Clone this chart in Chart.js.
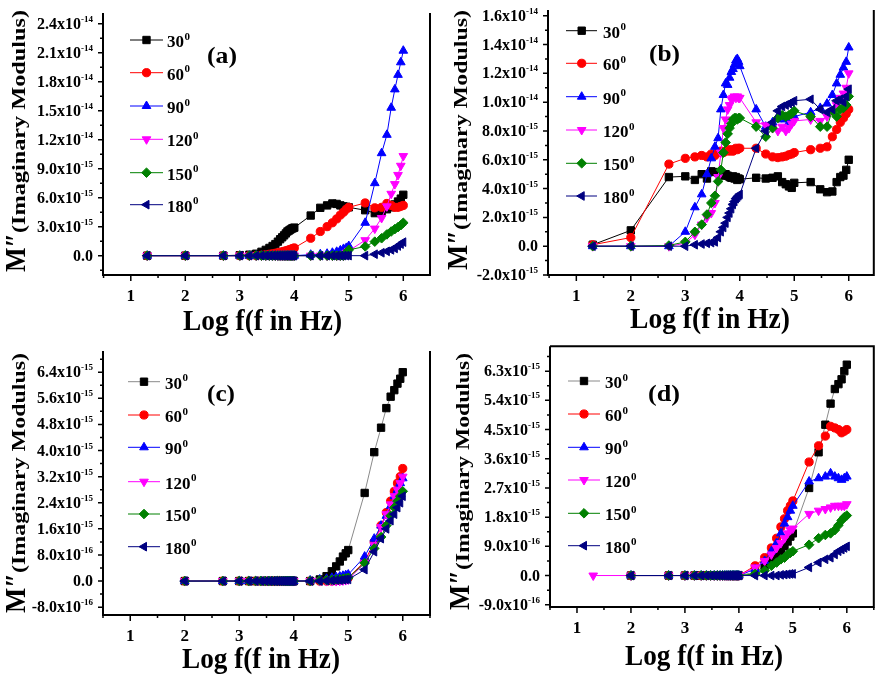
<!DOCTYPE html>
<html>
<head>
<meta charset="utf-8">
<script src="https://cdn.jsdelivr.net/npm/chart.js@4.4.0/dist/chart.umd.min.js"></script>
<style>
body { margin: 0; background: #fff; }
#wrap { position: relative; width: 880px; height: 678px; background: #fff; overflow: hidden; }
canvas { position: absolute; }
</style>
</head>
<body>
<div id="wrap">
  <canvas id="pa" width="440" height="340" style="left:0px;top:0px"></canvas>
  <canvas id="pb" width="440" height="340" style="left:440px;top:0px"></canvas>
  <canvas id="pc" width="440" height="338" style="left:0px;top:340px"></canvas>
  <canvas id="pd" width="440" height="338" style="left:440px;top:340px"></canvas>
</div>
<script>
// log10 of the measuring frequency, shared by all four panels
var logF = [1.301, 2, 2.699, 3, 3.176, 3.301, 3.398, 3.477, 3.544, 3.602, 3.653, 3.699, 3.740, 3.778, 3.813, 3.845, 3.875, 3.903, 3.929, 3.954, 3.978, 4,
            4.301, 4.477, 4.602, 4.699, 4.778, 4.845, 4.903, 4.954, 5,
            5.301, 5.477, 5.602, 5.699, 5.778, 5.845, 5.903, 5.954, 6];

// M'' values, in units of 1e-15
// (a)
var a30  = [0, 0, 0, 0.05, 0.1, 0.2, 0.4, 0.6, 0.8, 1.0, 1.2, 1.45, 1.7, 1.9, 2.1, 2.3, 2.5, 2.6, 2.7, 2.8, 2.85, 2.9,
            4.15, 4.95, 5.2, 5.4, 5.35, 5.2, 5.1, 5.05, 5.0, 4.7, 4.4, 4.5, 4.8, 5.0, 5.3, 5.6, 5.9, 6.3];
var a60  = [0, 0, 0, 0, 0, 0, 0.05, 0.1, 0.15, 0.2, 0.25, 0.3, 0.35, 0.4, 0.45, 0.5, 0.55, 0.6, 0.65, 0.7, 0.75, 0.8,
            1.8, 2.5, 3.0, 3.4, 3.8, 4.2, 4.5, 4.8, 5.0, 5.45, 4.95, 5.0, 5.4, 5.2, 5.0, 5.0, 5.1, 5.2];
var a90  = [0, 0, 0, 0, 0, 0, 0, 0, 0, 0, 0, 0, 0, 0, 0, 0, 0, 0, 0, 0, 0, 0,
            0.1, 0.15, 0.2, 0.3, 0.4, 0.55, 0.7, 0.8, 1.0, 3.4, 7.5, 10.6, 12.5, 15.3, 17.2, 18.7, 20.0, 21.2];
var a120 = [0, 0, 0, 0, 0, 0, 0, 0, 0, 0, 0, 0, 0, 0, 0, 0, 0, 0, 0, 0, 0, 0,
            0, 0, 0, 0, 0, 0, 0, 0.3, 0.5, 1.6, 2.8, 3.9, 5.1, 6.4, 7.4, 8.35, 9.3, 10.3];
var a150 = [0, 0, 0, 0, 0, 0, 0, 0, 0, 0, 0, 0, 0, 0, 0, 0, 0, 0, 0, 0, 0, 0,
            0, 0, 0, 0, 0, 0, 0, 0.3, 0.6, 0.95, 1.45, 1.8, 2.2, 2.5, 2.75, 2.95, 3.15, 3.4];
var a180 = [0, 0, 0, 0, 0, 0, 0, 0, 0, 0, 0, 0, 0, 0, 0, 0, 0, 0, 0, 0, 0, 0,
            0, 0, 0, 0, 0, 0, 0, 0, 0, 0, 0.15, 0.3, 0.45, 0.6, 0.75, 1.0, 1.2, 1.4];
// (b)
var b30  = [0.1, 1.1, 4.8, 4.85, 4.6, 5.0, 4.7, 5.2, 5.15, 5.1, 5.0, 4.9, 5.0, 4.9, 4.8, 4.75, 4.85, 4.7, 4.8, 4.6, 4.7, 4.65,
            4.75, 4.7, 4.75, 4.85, 4.45, 4.3, 4.15, 4.05, 4.4, 4.45, 3.95, 3.75, 3.8, 4.45, 4.8, 4.9, 5.3, 6.0];
var b60  = [0.1, 0.6, 5.7, 6.1, 6.2, 6.3, 6.2, 6.4, 6.3, 6.5, 6.6, 6.5, 6.6, 6.7, 6.6, 6.7, 6.6, 6.7, 6.8, 6.7, 6.8, 6.8,
            6.8, 6.4, 6.2, 6.15, 6.2, 6.25, 6.35, 6.4, 6.5, 6.7, 6.8, 6.9, 7.6, 8.1, 8.6, 8.9, 9.2, 9.5];
var b90  = [0, 0, 0, 1.0, 2.7, 3.6, 5.0, 6.1, 6.9, 7.5, 9.5, 10.5, 11.3, 11.2, 11.7, 12.1, 12.3, 12.6, 12.9, 13.0, 12.8, 12.5,
            9.5, 8.3, 8.6, 8.8, 9.0, 8.8, 8.6, 8.9, 9.0, 9.3, 9.6, 9.9, 10.5, 11.3, 11.9, 12.4, 12.8, 13.8];
var b120 = [0, 0, 0, 0.2, 0.8, 1.5, 2.0, 2.3, 3.0, 4.8, 6.5, 8.2, 8.8, 9.5, 9.8, 10.2, 10.3, 10.4, 10.3, 10.4, 10.3, 10.3,
            8.6, 8.4, 8.2, 8.0, 8.3, 8.0, 8.2, 8.5, 8.7, 8.8, 8.7, 9.0, 9.4, 9.8, 10.3, 10.6, 11.0, 12.0];
var b150 = [0, 0, 0.05, 0.3, 1.0, 1.5, 2.2, 3.0, 3.5, 4.5, 5.3, 6.5, 7.2, 7.8, 8.2, 8.5, 8.8, 8.9, 8.9, 8.8, 8.9, 8.9,
            8.3, 7.6, 8.2, 8.9, 9.1, 9.0, 9.1, 9.2, 9.4, 9.0, 8.3, 8.3, 9.4, 9.0, 9.5, 9.6, 9.8, 10.4];
var b180 = [0, 0, 0, 0, 0.1, 0.15, 0.2, 0.25, 0.3, 0.6, 1.0, 1.3, 1.6, 2.0, 2.3, 2.6, 2.9, 3.1, 3.3, 3.4, 3.5, 3.6,
            6.8, 8.0, 8.6, 9.4, 9.7, 9.8, 9.9, 10.0, 10.1, 10.2, 9.5, 9.3, 9.5, 10.1, 10.2, 10.0, 10.4, 10.9];
// (c)
var c30  = [null, 0, 0, 0, 0, 0, 0, 0, 0, 0, 0, 0, 0, 0, 0, 0, 0, 0, 0, 0, 0, 0,
            0, 0.05, 0.15, 0.3, 0.45, 0.6, 0.75, 0.85, 0.95, 2.7, 3.95, 4.7, 5.3, 5.65, 5.85, 6.05, 6.2, 6.4];
var c60  = [null, 0, 0, 0, 0, 0, 0, 0, 0, 0, 0, 0, 0, 0, 0, 0, 0, 0, 0, 0, 0, 0,
            0, 0, 0, 0, 0.02, 0.03, 0.05, 0.07, 0.1, 0.6, 1.2, 1.7, 2.1, 2.45, 2.75, 3.0, 3.2, 3.45];
var c90  = [null, 0, 0, 0, 0, 0, 0, 0, 0, 0, 0, 0, 0, 0, 0, 0, 0, 0, 0, 0, 0, 0,
            0.02, 0.05, 0.07, 0.1, 0.12, 0.14, 0.16, 0.18, 0.2, 0.75, 1.3, 1.7, 2.0, 2.3, 2.6, 2.8, 3.0, 3.15];
var c120 = [null, 0, 0, 0, 0, 0, 0, 0, 0, 0, 0, 0, 0, 0, 0, 0, 0, 0, 0, 0, 0, 0,
            0, 0, 0, 0, 0, 0.01, 0.02, 0.03, 0.05, 0.55, 1.1, 1.65, 2.05, 2.35, 2.6, 2.8, 3.0, 3.2];
var c150 = [null, 0, 0, 0, 0, 0, 0, 0, 0, 0, 0, 0, 0, 0, 0, 0, 0, 0, 0, 0, 0, 0,
            0, 0.02, 0.03, 0.04, 0.05, 0.06, 0.07, 0.08, 0.1, 0.55, 1.0, 1.35, 1.7, 2.0, 2.25, 2.45, 2.6, 2.75];
var c180 = [null, 0, 0, 0, 0, 0, 0, 0, 0, 0, 0, 0, 0, 0, 0, 0, 0, 0, 0, 0, 0, 0,
            0, 0, 0.01, 0.02, 0.03, 0.03, 0.04, 0.05, 0.05, 0.35, 0.9, 1.3, 1.6, 1.85, 2.05, 2.25, 2.4, 2.6];
// (d)
var d30  = [null, 0, 0, 0, 0, 0, 0, 0, 0, 0, 0, 0, 0, 0, 0, 0, 0, 0, 0, 0, 0, 0,
            0.1, 0.3, 0.45, 0.6, 0.75, 0.9, 1.05, 1.2, 1.3, 2.7, 3.8, 4.65, 5.3, 5.75, 5.9, 6.05, 6.3, 6.5];
var d60  = [null, 0, 0, 0, 0, 0, 0, 0, 0, 0, 0, 0, 0, 0, 0, 0, 0, 0, 0, 0, 0, 0,
            0.3, 0.55, 0.85, 1.15, 1.5, 1.75, 2.0, 2.15, 2.3, 3.5, 4.0, 4.3, 4.6, 4.55, 4.5, 4.4, 4.45, 4.5];
var d90  = [null, 0, 0, 0, 0, 0, 0, 0, 0, 0, 0, 0, 0, 0, 0, 0, 0, 0, 0, 0, 0, 0,
            0.2, 0.45, 0.75, 1.0, 1.3, 1.6, 1.8, 2.0, 2.15, 2.9, 3.0, 3.05, 3.15, 3.05, 3.0, 2.95, 3.0, 3.05];
var d120 = [0, 0, 0, 0, 0, 0, 0, 0, 0, 0, 0, 0, 0, 0, 0, 0, 0, 0, 0, 0, 0, 0,
            0.25, 0.45, 0.65, 0.85, 1.0, 1.15, 1.3, 1.4, 1.45, 1.9, 2.0, 2.05, 2.1, 2.15, 2.15, 2.15, 2.15, 2.2];
var d150 = [null, 0, 0, 0, 0, 0, 0, 0, 0, 0, 0, 0, 0, 0, 0, 0, 0, 0, 0, 0, 0, 0,
            0.05, 0.15, 0.3, 0.4, 0.5, 0.55, 0.65, 0.7, 0.75, 0.95, 1.15, 1.25, 1.3, 1.4, 1.55, 1.7, 1.8, 1.85];
var d180 = [null, 0, 0, 0, 0, 0, 0, 0, 0, 0, 0, 0, 0, 0, 0, 0, 0, 0, 0, 0, 0, 0,
            0, 0, 0, 0, 0.02, 0.03, 0.04, 0.05, 0.05, 0.25, 0.4, 0.5, 0.55, 0.65, 0.75, 0.8, 0.85, 0.9];

// legend names (temperature, degrees)
var legendNames = ['30', '60', '90', '120', '150', '180'];

// tick values (units of 1e-15)
var ticksA = [0, 3, 6, 9, 12, 15, 18, 21, 24];
var ticksB = [-2, 0, 2, 4, 6, 8, 10, 12, 14, 16];
var ticksC = [-0.8, 0, 0.8, 1.6, 2.4, 3.2, 4.0, 4.8, 5.6, 6.4];
var ticksD = [-0.9, 0, 0.9, 1.8, 2.7, 3.6, 4.5, 5.4, 6.3];
var xTicks = [1, 2, 3, 4, 5, 6];

var SERIF = '"Liberation Serif", "DejaVu Serif", serif';

var styles = [
    {color: '#000000', point: 'rect',     rot: 0,   r: 5.2},
    {color: '#ff0000', point: 'circle',   rot: 0,   r: 4.1},
    {color: '#0000ff', point: 'triangle', rot: 0,   r: 5},
    {color: '#ff00ff', point: 'triangle', rot: 180, r: 5},
    {color: '#008000', point: 'rectRot',  rot: 0,   r: 4.8},
    {color: '#000080', point: 'triangle', rot: -90, r: 5}
];

var panels = [
    {id: 'pa', tag: '(a)', series: [a30, a60, a90, a120, a150, a180], ticks: ticksA, minor: 1.5,
     xmin: 0.49, xmax: 6.49, ymin: -2, ymax: 25.1, pad: {left: 103, right: 10, top: 13, bottom: 65},
     leg: {x1: 130, x2: 163, mx: 146.5, tx: 167, ys: [40, 72.7, 106, 139.3, 172.7, 204.7]},
     tg: {x: 207, w: 30, y: 63}, yt: {b: 25, m0: 272, m1: 233, p1: 10}, xt: {x0: 183, x1: 342, y: 330},
     top: false, line30: '#000000'},
    {id: 'pb', tag: '(b)', series: [b30, b60, b90, b120, b150, b180], ticks: ticksB, minor: 1,
     xmin: 0.48, xmax: 6.46, ymin: -2, ymax: 16.4, pad: {left: 108, right: 3, top: 10, bottom: 65},
     leg: {x1: 126, x2: 157, mx: 141.7, tx: 163, ys: [30.7, 63.3, 96.7, 130, 163.3, 196]},
     tg: {x: 209, w: 31, y: 61}, yt: {b: 27, m0: 270, m1: 230, p1: 10}, xt: {x0: 190, x1: 350, y: 328},
     top: false, line30: '#000000'},
    {id: 'pc', tag: '(c)', series: [c30, c60, c90, c120, c150, c180], ticks: ticksC, minor: 0.4,
     xmin: 0.5, xmax: 6.5, ymin: -1.04, ymax: 7.05, pad: {left: 103, right: 10, top: 11, bottom: 63},
     leg: {x1: 128, x2: 160, mx: 144, tx: 165, ys: [41.7, 75, 107.3, 141.7, 174, 206.7]},
     tg: {x: 207, w: 28, y: 61}, yt: {b: 25, m0: 273, m1: 233, p1: 13}, xt: {x0: 182, x1: 340, y: 328},
     top: false, line30: '#8a8a8a'},
    {id: 'pd', tag: '(d)', series: [d30, d60, d90, d120, d150, d180], ticks: ticksD, minor: 0.45,
     xmin: 0.5, xmax: 6.5, ymin: -0.97, ymax: 7.07, pad: {left: 110, right: 3, top: 5, bottom: 71},
     leg: {x1: 128, x2: 160, mx: 144, tx: 165, ys: [41, 74, 107.3, 140, 173.3, 205.7]},
     tg: {x: 208, w: 32, y: 61}, yt: {b: 29, m0: 270, m1: 230, p1: 13}, xt: {x0: 185, x1: 343, y: 325},
     top: true, line30: '#8a8a8a'}
];

// draw text squeezed/stretched along its own direction to a given length
function fitText(ctx, text, x, y, len) {
    var w = ctx.measureText(text).width;
    ctx.save();
    ctx.translate(x, y);
    ctx.scale(len / w, 1);
    ctx.fillText(text, 0, 0);
    ctx.restore();
}

function tickParts(v) {
    if (Math.abs(v) < 1e-9) return ['0.0', ''];
    var e = Math.floor(Math.log10(Math.abs(v)) + 1e-9);
    var m = v / Math.pow(10, e);
    return [m.toFixed(1) + 'x10', String(e - 15)];
}

function marker(ctx, st, x, y) {
    ctx.fillStyle = st.color;
    ctx.strokeStyle = st.color;
    ctx.lineWidth = 1;
    Chart.helpers.drawPoint(ctx, {pointStyle: st.point, rotation: st.rot, radius: st.r, borderWidth: 1}, x, y);
}

function makeDecor(p) {
    return {
        id: 'decor',
        afterDraw: function (chart) {
            var ctx = chart.ctx, a = chart.chartArea, xs = chart.scales.x, ys = chart.scales.y;
            var i, v, px, py, k;
            ctx.save();
            ctx.strokeStyle = '#000';
            ctx.fillStyle = '#000';
            ctx.lineWidth = 2;
            ctx.beginPath();
            ctx.moveTo(a.left, a.top);
            ctx.lineTo(a.left, a.bottom);
            ctx.lineTo(a.right, a.bottom);
            ctx.lineTo(a.right, a.top);
            if (p.top) ctx.lineTo(a.left, a.top);
            ctx.stroke();

            // y ticks (major + minor, outward)
            ctx.lineWidth = 1.5;
            ctx.beginPath();
            for (k = -20; k < 60; k++) {
                v = p.ticks[0] + k * p.minor;
                if (v < p.ymin || v > p.ymax) continue;
                py = ys.getPixelForValue(v);
                ctx.moveTo(a.left, py);
                ctx.lineTo(a.left - (k % 2 === 0 ? 5 : 3), py);
            }
            // x ticks
            for (v = 0.5; v <= 6.5; v += 0.5) {
                if (v < p.xmin || v > p.xmax) continue;
                px = xs.getPixelForValue(v);
                ctx.moveTo(px, a.bottom);
                ctx.lineTo(px, a.bottom + (v % 1 === 0 ? 6 : 3));
            }
            ctx.stroke();

            // y tick labels
            for (i = 0; i < p.ticks.length; i++) {
                var parts = tickParts(p.ticks[i]);
                py = ys.getPixelForValue(p.ticks[i]);
                var right = a.left - 10;
                ctx.font = 'bold 9px ' + SERIF;
                var sw = parts[1] ? ctx.measureText(parts[1]).width : 0;
                ctx.textAlign = 'right';
                ctx.textBaseline = 'alphabetic';
                if (parts[1]) ctx.fillText(parts[1], right, py - 2);
                ctx.font = 'bold 16px ' + SERIF;
                ctx.fillText(parts[0], right - sw, py + 5);
            }
            // x tick labels
            ctx.font = 'bold 17px ' + SERIF;
            ctx.textAlign = 'center';
            for (i = 0; i < xTicks.length; i++) {
                ctx.fillText(String(xTicks[i]), xs.getPixelForValue(xTicks[i]), a.bottom + 26);
            }

            // legend
            ctx.textAlign = 'left';
            for (i = 0; i < legendNames.length; i++) {
                var st = styles[i], ly = p.leg.ys[i];
                ctx.strokeStyle = i === 0 ? p.line30 : st.color;
                ctx.lineWidth = 1;
                ctx.beginPath();
                ctx.moveTo(p.leg.x1, ly);
                ctx.lineTo(p.leg.x2, ly);
                ctx.stroke();
                marker(ctx, st, p.leg.mx, ly);
                ctx.fillStyle = '#000';
                ctx.font = 'bold 17px ' + SERIF;
                var mw = ctx.measureText(legendNames[i]).width;
                ctx.fillText(legendNames[i], p.leg.tx, ly + 7);
                ctx.font = 'bold 11px ' + SERIF;
                ctx.fillText('0', p.leg.tx + mw + 0.5, ly - 0.5);
            }

            // panel tag
            ctx.fillStyle = '#000';
            ctx.font = 'bold 23px ' + SERIF;
            fitText(ctx, p.tag, p.tg.x, p.tg.y, p.tg.w);

            // x title
            ctx.font = 'bold 30px ' + SERIF;
            fitText(ctx, 'Log f(f in Hz)', p.xt.x0, p.xt.y, p.xt.x1 - p.xt.x0);

            // y title (rotated)
            ctx.save();
            ctx.translate(p.yt.b, p.yt.m0);
            ctx.rotate(-Math.PI / 2);
            ctx.font = 'bold 30px ' + SERIF;
            fitText(ctx, 'M\u2033', 0, 0, p.yt.m0 - p.yt.m1);
            ctx.font = 'bold 18px ' + SERIF;
            fitText(ctx, '(Imaginary Modulus)', p.yt.m0 - p.yt.m1, 0, p.yt.m1 - p.yt.p1);
            ctx.restore();

            ctx.restore();
        }
    };
}

panels.forEach(function (p) {
    var datasets = p.series.map(function (vals, i) {
        var st = styles[i];
        return {
            label: legendNames[i],
            data: logF.map(function (x, j) { return {x: x, y: vals[j]}; }),
            borderColor: i === 0 ? p.line30 : st.color,
            borderWidth: 1,
            backgroundColor: st.color,
            pointStyle: st.point,
            pointRotation: st.rot,
            pointRadius: st.r,
            pointBorderWidth: 1,
            pointBackgroundColor: st.color,
            pointBorderColor: st.color,
            tension: 0,
            order: 6 - i
        };
    });
    new Chart(document.getElementById(p.id), {
        type: 'line',
        data: {datasets: datasets},
        options: {
            responsive: false,
            animation: false,
            layout: {padding: p.pad},
            plugins: {legend: {display: false}, tooltip: {enabled: false}},
            scales: {
                x: {type: 'linear', min: p.xmin, max: p.xmax, display: false},
                y: {type: 'linear', min: p.ymin, max: p.ymax, display: false}
            }
        },
        plugins: [makeDecor(p)]
    });
});
</script>
</body>
</html>
